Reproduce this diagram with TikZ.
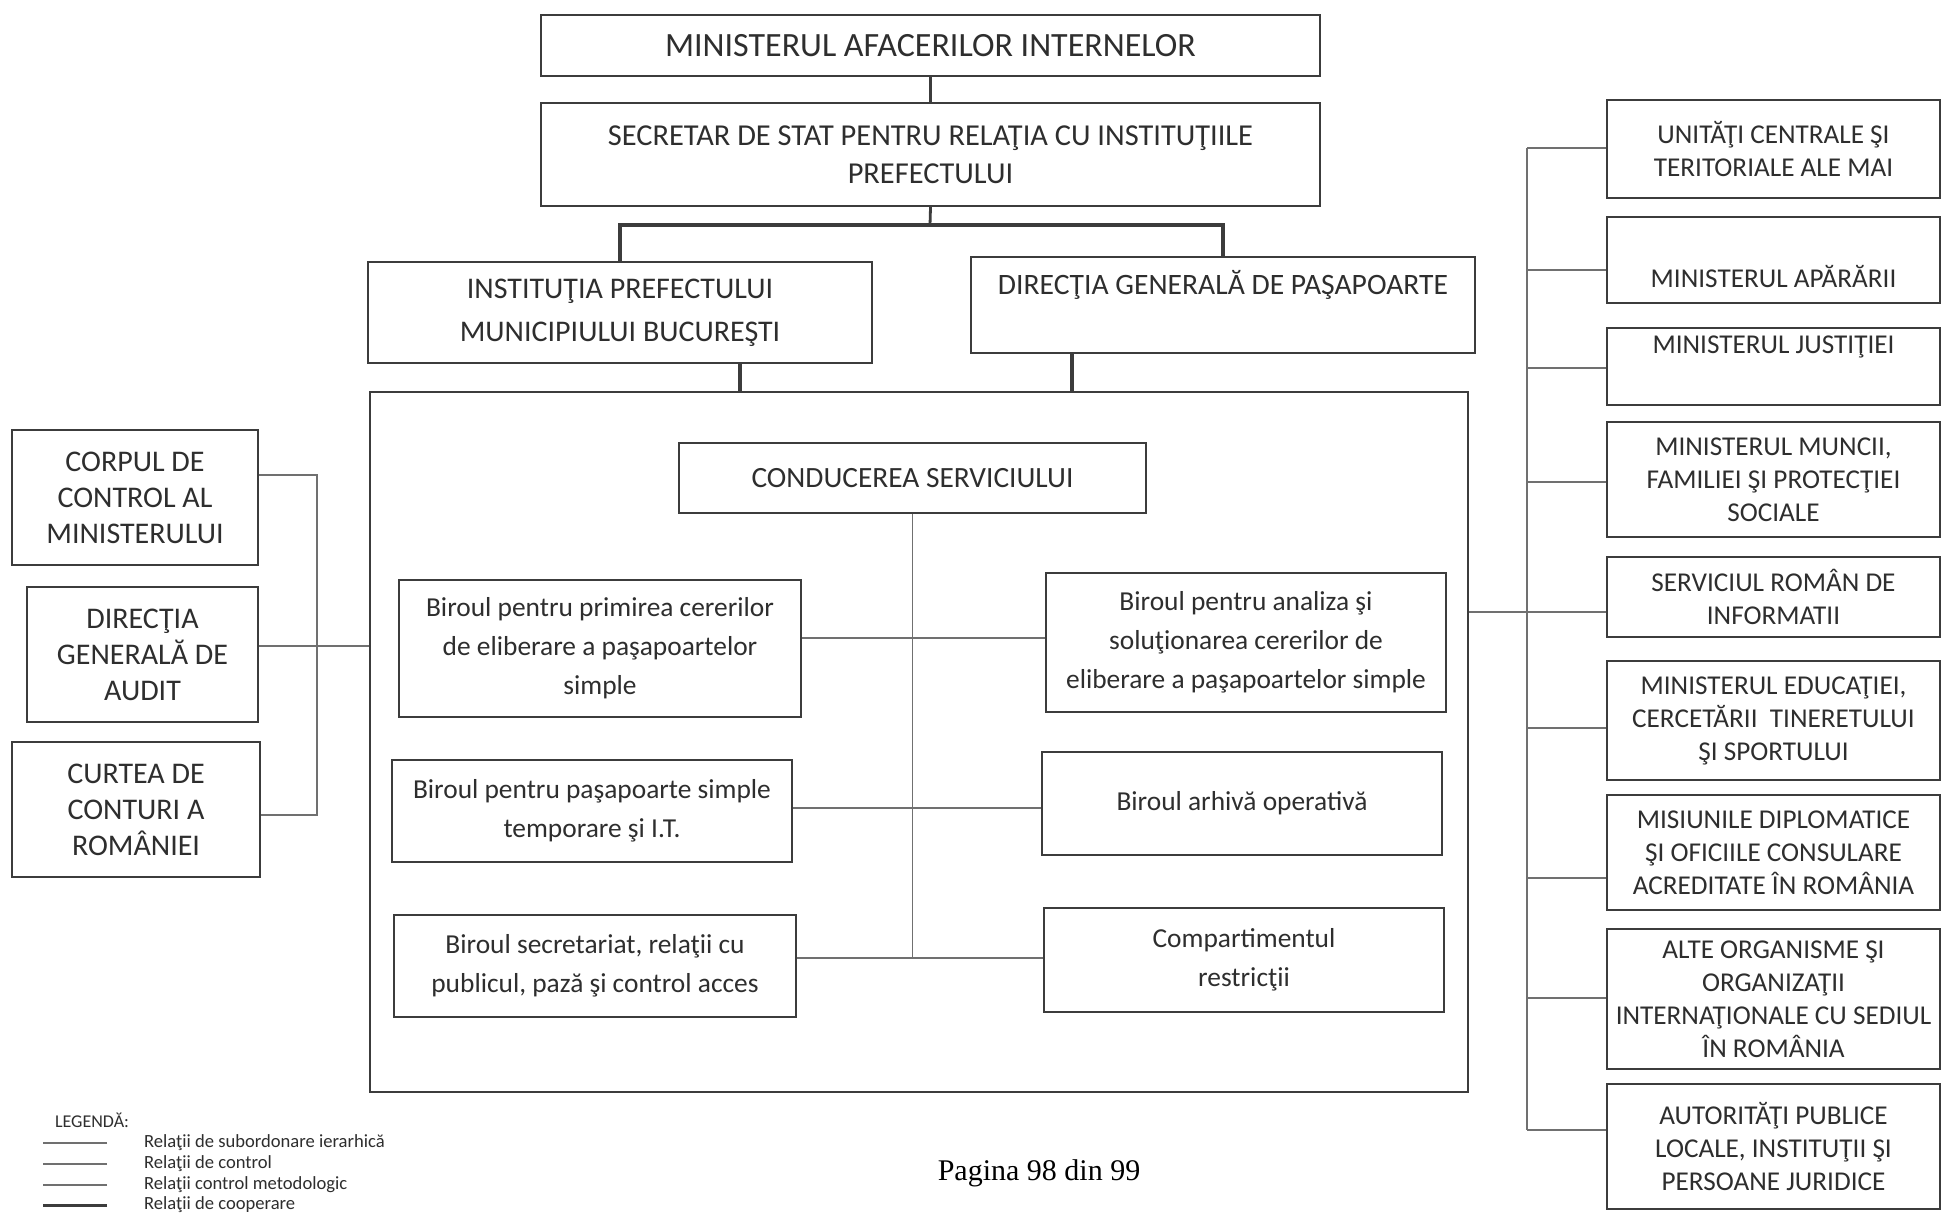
\documentclass[tikz,border=0pt]{standalone}
\usepackage{fontspec}
\setmainfont{Carlito}
\newfontfamily\pagfont{Liberation Serif}
\usetikzlibrary{positioning,calc}
\definecolor{ink}{HTML}{2E2E2E}
\definecolor{edge}{HTML}{3C3C3C}
\definecolor{wire}{HTML}{707070}
\newcommand{\setfs}[2]{\fontsize{#1}{#2}\selectfont}
\tikzset{
    box/.style={draw=edge, line width=1.2pt, inner sep=0pt, align=center, text=ink},
    sz/.style 2 args={minimum width=#1*0.5pt, minimum height=#2*0.5pt},
    link/.style={draw=wire, line width=0.9pt},
    mlink/.style={draw=edge, line width=1.4pt},
    tlink/.style={draw=edge, line width=2.3pt},
    birou/.style={box, font=\setfs{13.7pt}{19.5pt}},
    ctrl/.style={box, font=\setfs{15pt}{18pt}},
    coop/.style={box, sz={333}{#1}, font=\setfs{13.6pt}{16.5pt}},
    legtext/.style={anchor=west, text=ink, font=\setfs{9.3pt}{10.5pt}}
}

\begin{document}
\begin{tikzpicture}[x=0.5pt, y=-0.5pt]
    \path[fill=white, use as bounding box] (0,0) rectangle (1942,1217);

    \node[box, sz={779}{61}, font=\setfs{17pt}{20pt}] (mai) at (930.5,45.5) {MINISTERUL AFACERILOR INTERNELOR};
    \node[box, sz={779}{103}, font=\setfs{15.2pt}{19pt}] (sec) at (930.5,154.5) {SECRETAR DE STAT PENTRU RELAŢIA CU INSTITUŢIILE\\PREFECTULUI};
    \node[box, sz={504}{101}, font=\setfs{15pt}{21.5pt}] (inst) at (620,312.5) {INSTITUŢIA PREFECTULUI\\MUNICIPIULUI BUCUREŞTI};
    \node[box, sz={504}{96}, font=\setfs{14.8pt}{17pt}] (dgp) at (1223,305) {DIRECŢIA GENERALĂ DE PAŞAPOARTE\\\strut};

    \node[box, sz={1098}{700}] (cadru) at (919,742) {};
    \node[box, sz={467}{70}, font=\setfs{14.7pt}{18pt}] (cond) at (912.5,478) {CONDUCEREA SERVICIULUI};

    \node[birou, sz={402}{137}] (b1) at (600,648.5) {Biroul pentru primirea cererilor\\de eliberare a paşapoartelor\\simple};
    \node[birou, sz={400}{102}] (b2) at (592,811) {Biroul pentru paşapoarte simple\\temporare şi I.T.};
    \node[birou, sz={402}{102}] (b3) at (595,966) {Biroul secretariat, relaţii cu\\publicul, pază şi control acces};
    \node[birou, sz={400}{139}] (b4) at (1246,642.5) {Biroul pentru analiza şi\\soluţionarea cererilor de\\eliberare a paşapoartelor simple};
    \node[birou, sz={400}{103}] (b5) at (1242,803.5) {Biroul arhivă operativă};
    \node[birou, sz={400}{104}] (b6) at (1244,960) {Compartimentul\\restricţii};

    \node[ctrl, sz={246}{135}] (corp) at (135,497.5) {CORPUL DE\\CONTROL AL\\MINISTERULUI};
    \node[ctrl, sz={231}{135}] (audit) at (142.5,654.5) {DIRECŢIA\\GENERALĂ DE\\AUDIT};
    \node[ctrl, sz={248}{135}] (curtea) at (136,809.5) {CURTEA DE\\CONTURI A\\ROMÂNIEI};

    \node[coop={98}] (unit) at (1773.5,149) {UNITĂŢI CENTRALE ŞI\\TERITORIALE ALE MAI};
    \node[coop={86}] (apa) at (1773.5,260) {\strut\\MINISTERUL APĂRĂRII};
    \node[coop={77}] (jus) at (1773.5,366.5) {MINISTERUL JUSTIŢIEI\\\strut};
    \node[coop={115}] (mun) at (1773.5,479.5) {MINISTERUL MUNCII,\\FAMILIEI ŞI PROTECŢIEI\\SOCIALE};
    \node[coop={80}] (sri) at (1773.5,597) {SERVICIUL ROMÂN DE\\INFORMATII};
    \node[coop={119}] (edu) at (1773.5,720.5) {MINISTERUL EDUCAŢIEI,\\CERCETĂRII~ TINERETULUI\\ŞI SPORTULUI};
    \node[coop={115}] (mis) at (1773.5,852.5) {MISIUNILE DIPLOMATICE\\ŞI OFICIILE CONSULARE\\ACREDITATE ÎN ROMÂNIA};
    \node[coop={140}] (alt) at (1773.5,999) {ALTE ORGANISME ŞI\\ORGANIZAŢII\\INTERNAŢIONALE CU SEDIUL\\ÎN ROMÂNIA};
    \node[coop={125}] (aut) at (1773.5,1146.5) {AUTORITĂŢI PUBLICE\\LOCALE, INSTITUŢII ŞI\\PERSOANE JURIDICE};

    % subordonare
    \coordinate (bar) at (930,225);
    \coordinate (ci) at (740,0);
    \coordinate (cd) at (1072,0);
    \draw[mlink] (mai.south) -- (sec.north);
    \draw[mlink] (sec.south) -- (bar);
    \draw[tlink] (inst.north) |- (bar) -| (dgp.north);
    \draw[tlink] (inst.south -| ci) -- (cadru.north -| ci);
    \draw[tlink] (dgp.south -| cd) -- (cadru.north -| cd);

    \coordinate (j1) at (912,638);
    \coordinate (j2) at (912,808);
    \coordinate (j3) at (912,958);
    \draw[link] (cond.south) -- (cond.south |- j3);
    \draw[link] (b1.east |- j1) -- (b4.west |- j1);
    \draw[link] (b2.east |- j2) -- (b5.west |- j2);
    \draw[link] (b3.east |- j3) -- (b6.west |- j3);

    % control
    \coordinate (kc) at (317,475);
    \coordinate (kk) at (317,815);
    \coordinate (km) at (317,646);
    \draw[link] (corp.east |- kc) -- (kc) -- (kk) -- (curtea.east |- kk);
    \draw[link] (audit.east |- km) -- (cadru.west |- km);

    % cooperare
    \coordinate (bt) at (1527,148);
    \coordinate (bb) at (1527,1130);
    \draw[link] (bt) -- (bb);
    \foreach \n/\y in {unit/148, apa/270, jus/368, mun/482, sri/612, edu/728, mis/878, alt/998, aut/1130}
        \draw[link] (1527,\y) -- (\n.west |- 0,\y);
    \draw[link] (cadru.east |- 0,612) -- (1527,612);

    \node[legtext, font=\setfs{9pt}{10pt}] (leg) at (48,1120) {LEGENDĂ:};
    \node[legtext] (t1) at (137,1143) {Relaţii de subordonare ierarhică};
    \node[legtext] (t2) at (137,1164) {Relaţii de control};
    \node[legtext] (t3) at (137,1185) {Relaţii control metodologic};
    \node[legtext] (t4) at (137,1205) {Relaţii de cooperare};
    \draw[draw=wire, line width=1.1pt] ([xshift=-15pt]t1.west) -- ++(-32pt,0);
    \draw[draw=wire, line width=0.8pt] ([xshift=-15pt]t2.west) -- ++(-32pt,0);
    \draw[draw=wire, line width=0.8pt] ([xshift=-15pt]t3.west) -- ++(-32pt,0);
    \draw[draw=edge, line width=1.5pt] ([xshift=-15pt]t4.west) -- ++(-32pt,0);

    \node[font=\pagfont\setfs{15pt}{18pt}] (pag) at (1039,1173) {Pagina 98 din 99};
\end{tikzpicture}
\end{document}
